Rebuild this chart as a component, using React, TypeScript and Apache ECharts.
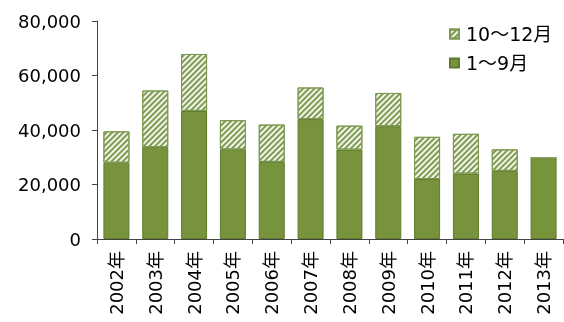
import React, { useEffect, useRef } from "react";
import * as echarts from "echarts";

const categories = ["2002年", "2003年", "2004年", "2005年", "2006年", "2007年", "2008年", "2009年", "2010年", "2011年", "2012年", "2013年"];
const janSep = [28000, 33700, 47000, 32900, 28300, 44000, 32800, 41400, 22000, 24000, 25000, 29700];
const octDec = [11500, 20800, 20900, 10700, 13700, 11600, 8800, 12200, 15500, 14600, 7900, 0];
const yTicks = [0, 20000, 40000, 60000, 80000];
const seriesNames = ["10～12月", "1～9月"];

const FONT = "'DejaVu Sans', 'Noto Sans CJK JP', sans-serif";

export default function App() {
  const ref = useRef<HTMLDivElement>(null);
  useEffect(() => {
    if (!ref.current) return;
    const chart = echarts.init(ref.current, null, { renderer: "svg" });
    chart.setOption({
      animation: false,
      textStyle: { fontFamily: FONT },
      grid: { left: 97, right: 1, top: 21, bottom: 83, containLabel: false },
      legend: {
        orient: "vertical",
        left: 444,
        top: 19,
        icon: "rect",
        itemWidth: 9,
        itemHeight: 9,
        itemGap: 9,
        data: [seriesNames[0], seriesNames[1]],
        textStyle: { fontFamily: FONT, fontSize: 19, color: "#000", lineHeight: 20, padding: [0, 0, 0, 2] },
      },
      xAxis: {
        type: "category",
        data: categories,
        boundaryGap: true,
        axisLine: { lineStyle: { color: "#444", width: 1 } },
        axisTick: { show: true, alignWithLabel: false, length: 5, lineStyle: { color: "#444" } },
        axisLabel: { rotate: 90, margin: 12, fontSize: 18, color: "#000", fontFamily: FONT, interval: 0 },
      },
      yAxis: {
        type: "value",
        min: yTicks[0],
        max: yTicks[yTicks.length - 1],
        interval: 20000,
        splitLine: { show: false },
        axisLine: { show: true, lineStyle: { color: "#444", width: 1 } },
        axisTick: { show: true, length: 5, lineStyle: { color: "#444" } },
        axisLabel: {
          fontSize: 18,
          color: "#000",
          fontFamily: FONT,
          margin: 16,
          formatter: (v: number) => v.toLocaleString("en-US"),
        },
      },
      series: [
        {
          name: seriesNames[1],
          type: "bar",
          stack: "total",
          barWidth: "67%",
          data: janSep,
          itemStyle: { color: "#77933c", borderColor: "#5f7a2c", borderWidth: 1 },
        },
        {
          name: seriesNames[0],
          type: "bar",
          stack: "total",
          barWidth: "67%",
          data: octDec,
          itemStyle: {
            color: "#f1f5e8",
            borderColor: "#7d9850",
            borderWidth: 1,
            decal: {
              symbol: "rect",
              symbolSize: 1,
              dashArrayX: [1, 0],
              dashArrayY: [1.3, 1.7],
              rotation: -Math.PI / 4,
              color: "#819b55",
            },
          },
        },
      ],
    });
    return () => chart.dispose();
  }, []);
  return <div ref={ref} style={{ position: "fixed", left: 0, top: 0, width: 564, height: 322 }} />;
}
